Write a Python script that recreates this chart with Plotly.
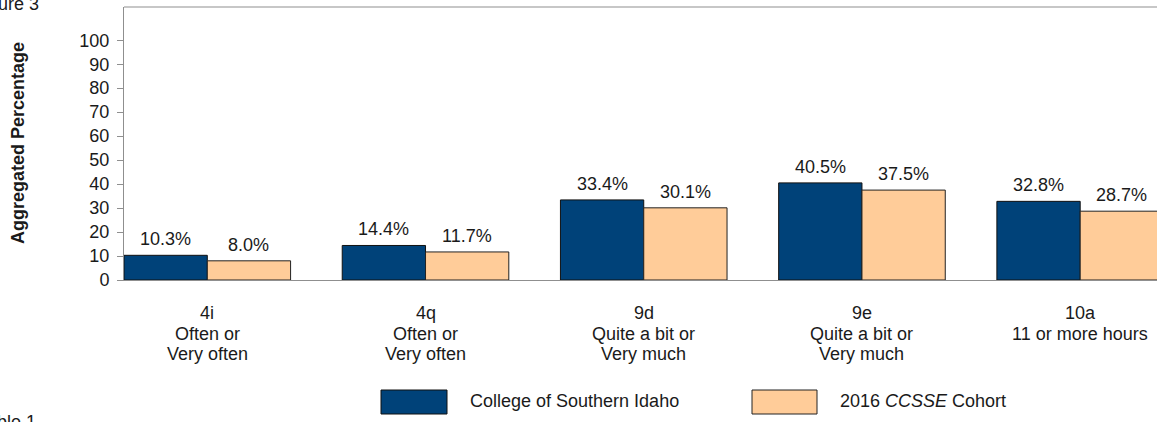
import plotly.graph_objects as go

# ---- data ----
categories = ["4i", "4q", "9d", "9e", "10a"]
tick_labels = [
    "4i<br>Often or<br>Very often",
    "4q<br>Often or<br>Very often",
    "9d<br>Quite a bit or<br>Very much",
    "9e<br>Quite a bit or<br>Very much",
    "10a<br>11 or more hours",
]
college_values = [10.3, 14.4, 33.4, 40.5, 32.8]
cohort_values = [8.0, 11.7, 30.1, 37.5, 28.7]
y_ticks = [0, 10, 20, 30, 40, 50, 60, 70, 80, 90, 100]
series_names = ["College of Southern Idaho", "2016 <i>CCSSE</i> Cohort"]

# ---- style ----
FONT = "Liberation Sans, Arial, sans-serif"
FS = 18
TXT = "#1a1a1a"
AXIS = "#8f8f8f"
BLUE = "#004279"
PEACH = "#FFCC99"
BAR_W = 0.3817

W, H = 1157, 422
ML, MR, MT, MB = 124, 0, 7, 142
PW = W - ML - MR
PH = H - MT - MB


def px_x(px):
    return (px - ML) / PW


def px_y(py):
    return (H - MB - py) / PH


xs = list(range(len(categories)))

fig = go.Figure()
fig.add_trace(go.Bar(
    x=xs, y=college_values, width=BAR_W, offset=-BAR_W,
    marker=dict(color=BLUE, line=dict(color="#111111", width=1)),
    name=series_names[0], showlegend=False, hoverinfo="skip",
))
fig.add_trace(go.Bar(
    x=xs, y=cohort_values, width=BAR_W, offset=0,
    marker=dict(color=PEACH, line=dict(color="#222222", width=1)),
    name=series_names[1], showlegend=False, hoverinfo="skip",
))

annotations = []
# data labels
for i, (a, b) in enumerate(zip(college_values, cohort_values)):
    for xv, v in ((i - BAR_W / 2, a), (i + BAR_W / 2, b)):
        annotations.append(dict(
            x=xv, y=v, xref="x", yref="y", text=f"{v:.1f}%",
            showarrow=False, yanchor="bottom", yshift=4,
            font=dict(family=FONT, size=FS, color=TXT),
        ))

# category labels (one annotation per line for tight spacing)
for i, lab in enumerate(tick_labels):
    for j, line in enumerate(lab.split("<br>")):
        annotations.append(dict(
            x=i, y=0, xref="x", yref="y", text=line,
            showarrow=False, yanchor="middle", yshift=-33 - 20.5 * j,
            font=dict(family=FONT, size=FS, color=TXT),
        ))

# y axis title
annotations.append(dict(
    x=px_x(17.5), y=0.5, xref="paper", yref="paper",
    text="<b>Aggregated Percentage</b>", textangle=-90, showarrow=False,
    xanchor="center", yanchor="middle",
    font=dict(family=FONT, size=FS, color=TXT),
))

# legend texts
annotations.append(dict(
    x=px_x(468), y=px_y(401), xref="paper", yref="paper",
    text=series_names[0], showarrow=False, xanchor="left", yanchor="middle",
    font=dict(family=FONT, size=FS, color=TXT),
))
annotations.append(dict(
    x=px_x(838), y=px_y(401), xref="paper", yref="paper",
    text=series_names[1], showarrow=False, xanchor="left", yanchor="middle",
    font=dict(family=FONT, size=FS, color=TXT),
))

# cropped page fragments (cut off by the page edge, as in the source)
annotations.append(dict(
    x=px_x(-29), y=px_y(4), xref="paper", yref="paper",
    text="Figure 3", showarrow=False, xanchor="left", yanchor="middle",
    font=dict(family=FONT, size=FS, color=TXT),
))
annotations.append(dict(
    x=px_x(-24), y=px_y(422), xref="paper", yref="paper",
    text="Table 1", showarrow=False, xanchor="left", yanchor="middle",
    font=dict(family=FONT, size=FS, color=TXT),
))

shapes = [
    # top border
    dict(type="line", xref="paper", yref="paper", x0=0, x1=1, y0=1, y1=1,
         line=dict(color=AXIS, width=1)),
    # legend swatches
    dict(type="rect", xref="paper", yref="paper",
         x0=px_x(381), x1=px_x(447), y0=px_y(414), y1=px_y(390),
         fillcolor=BLUE, line=dict(color="#111111", width=1)),
    dict(type="rect", xref="paper", yref="paper",
         x0=px_x(752), x1=px_x(817), y0=px_y(414), y1=px_y(390),
         fillcolor=PEACH, line=dict(color="#222222", width=1)),
]

fig.update_layout(
    width=W, height=H,
    margin=dict(l=ML, r=MR, t=MT, b=MB, pad=0),
    paper_bgcolor="white", plot_bgcolor="white",
    barmode="overlay",
    showlegend=False,
    font=dict(family=FONT, size=FS, color=TXT),
    annotations=annotations,
    shapes=shapes,
    xaxis=dict(
        range=[-BAR_W, 4.352], tickvals=xs, showticklabels=False,
        ticks="", showgrid=False, zeroline=False,
        showline=True, linecolor=AXIS, linewidth=1, fixedrange=True,
    ),
    yaxis=dict(
        range=[0, 113.85], tickvals=y_ticks,
        ticks="outside", ticklen=6, tickcolor=AXIS, tickwidth=1,
        ticklabelstandoff=4,
        tickfont=dict(family=FONT, size=FS, color=TXT),
        showgrid=False, zeroline=False,
        showline=True, linecolor=AXIS, linewidth=1, fixedrange=True,
    ),
)

fig.write_html(
    "out.html",
    config={"displayModeBar": False},
    post_script="document.body.style.margin='0';document.body.style.overflow='hidden';",
)
